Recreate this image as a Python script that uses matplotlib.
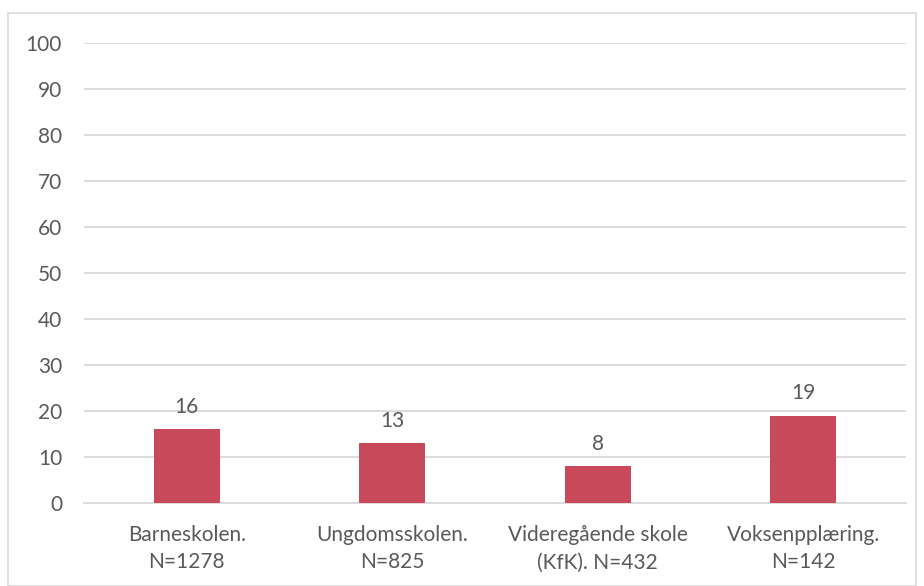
import matplotlib
matplotlib.use("Agg")
import matplotlib.pyplot as plt
from matplotlib.patches import Rectangle

categories = ["Barneskolen.\nN=1278", "Ungdomsskolen.\nN=825", "Videregående skole\n(KfK). N=432", "Voksenpplæring.\nN=142"]
values = [16, 13, 8, 19]
yticks = [0, 10, 20, 30, 40, 50, 60, 70, 80, 90, 100]

plt.rcParams['font.family'] = ['Lato', 'DejaVu Sans']
text_color = "#595959"
bar_color = "#C84A5A"
grid_color = "#D9D9D9"
fs = 15

fig = plt.figure(figsize=(9.24, 5.86), dpi=100)
ax = fig.add_axes([84/924, 1-503/586, 822/924, 460/586])

x = list(range(len(categories)))
bars = ax.bar(x, values, width=0.32, color=bar_color, zorder=3)
for xi, v in zip(x, values):
    ax.annotate(str(v), (xi, v), xytext=(0, 9), textcoords="offset points",
                ha="center", va="bottom", fontsize=fs, color=text_color)

ax.set_xlim(-0.5, len(categories) - 0.5)
ax.set_ylim(0, 100)
ax.set_yticks(yticks)
ax.set_xticks(x)
ax.set_xticklabels(categories, fontsize=fs, color=text_color, linespacing=1.45)
ax.tick_params(axis='y', labelsize=fs, labelcolor=text_color, length=0, pad=15.8)
ax.tick_params(axis='x', length=0, pad=16)
ax.grid(axis='y', color=grid_color, linewidth=1.3, zorder=0)
for s in ["top", "right", "left"]:
    ax.spines[s].set_visible(False)
ax.spines["bottom"].set_color(grid_color)
ax.spines["bottom"].set_linewidth(1.3)

fig.patches.append(Rectangle((8/924, 0.5/586), 1 - 8.5/924 - 8/924, 1 - 13/586, transform=fig.transFigure,
                             fill=False, edgecolor="#D9D9D9", linewidth=1.2))

fig.savefig("out.png", dpi=100)
